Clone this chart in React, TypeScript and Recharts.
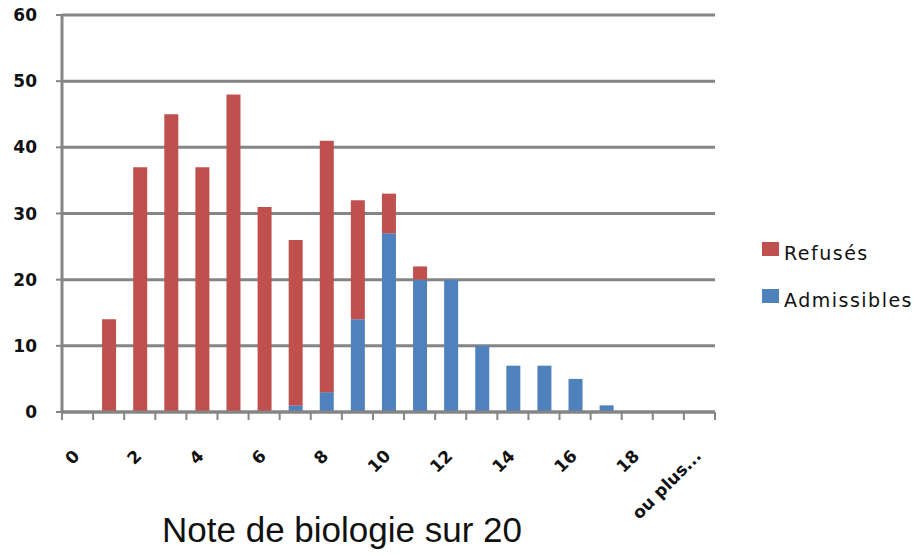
import { Bar, BarChart, CartesianGrid, XAxis, YAxis } from 'recharts'

const GRADES = ['0', '1', '2', '3', '4', '5', '6', '7', '8', '9', '10', '11', '12', '13', '14', '15', '16', '17', '18', '19', 'ou plus...']
const ADMISSIBLES = [0, 0, 0, 0, 0, 0, 0, 1, 3, 14, 27, 20, 20, 10, 7, 7, 5, 1, 0, 0, 0]
const REFUSES = [0, 14, 37, 45, 37, 48, 31, 25, 38, 18, 6, 2, 0, 0, 0, 0, 0, 0, 0, 0, 0]
const Y_TICKS = [0, 10, 20, 30, 40, 50, 60]

const RED = '#C0504D'
const BLUE = '#4F81BD'
const GRID = '#858585'

const W = 916
const H = 556
const X_HEIGHT = 144
const MARGIN = { top: 15, right: 201, bottom: 0, left: 0 }
const Y_WIDTH = 62
const SLOT = (W - MARGIN.right - MARGIN.left - Y_WIDTH) / GRADES.length

const data = GRADES.map((g, i) => ({ grade: g, admissibles: ADMISSIBLES[i], refuses: REFUSES[i] }))

function XTick(props: any) {
  const { x, y, index, payload } = props
  const half = SLOT / 2
  const last = index === GRADES.length - 1
  const lx = x + 3
  const ly = y + 45
  return (
    <g>
      <line x1={x - half} x2={x - half} y1={y} y2={y + 8} stroke={GRID} strokeWidth={2} />
      {last && <line x1={x + half} x2={x + half} y1={y} y2={y + 8} stroke={GRID} strokeWidth={2} />}
      {index % 2 === 0 && (
        <text
          x={lx}
          y={ly}
          textAnchor="end"
          transform={`rotate(-45 ${lx} ${ly})`}
          fontFamily="DejaVu Sans"
          fontWeight="bold"
          fontSize={17}
          fill="#111"
        >
          {payload.value}
        </text>
      )}
    </g>
  )
}

function LegendBox() {
  const items = [
    { label: 'Refusés', color: RED, top: 242 },
    { label: 'Admissibles', color: BLUE, top: 289 },
  ]
  return (
    <>
      {items.map((it) => (
        <div key={it.label}>
          <div
            style={{ position: 'absolute', left: 762, top: it.top, width: 17, height: 14, background: it.color }}
          />
          <div
            style={{
              position: 'absolute',
              left: 784,
              top: it.top + 2,
              fontFamily: 'DejaVu Sans',
              fontSize: 19,
              lineHeight: '19px',
              letterSpacing: 1.5,
              color: '#111',
              whiteSpace: 'nowrap',
            }}
          >
            {it.label}
          </div>
        </div>
      ))}
    </>
  )
}

export default function App() {
  return (
    <div style={{ position: 'absolute', left: 0, top: 0, width: W, height: H, background: '#fff' }}>
      <BarChart width={W} height={H} data={data} margin={MARGIN} barSize={14}>
        <CartesianGrid horizontal vertical={false} stroke={GRID} strokeWidth={3} />
        <XAxis
          dataKey="grade"
          interval={0}
          axisLine={{ stroke: GRID, strokeWidth: 3 }}
          tickLine={false}
          tickSize={0}
          tickMargin={0}
          tick={<XTick />}
          height={X_HEIGHT}
        />
        <YAxis
          domain={[0, 60]}
          ticks={Y_TICKS}
          width={Y_WIDTH}
          axisLine={{ stroke: GRID, strokeWidth: 3 }}
          tickLine={{ stroke: GRID, strokeWidth: 2 }}
          tickSize={6}
          tickMargin={19}
          tick={{ fontFamily: 'DejaVu Sans', fontWeight: 'bold', fontSize: 17, fill: '#111' }}
        />
        <Bar dataKey="admissibles" stackId="a" fill={BLUE} isAnimationActive={false} />
        <Bar dataKey="refuses" stackId="a" fill={RED} isAnimationActive={false} />
      </BarChart>
      <LegendBox />
      <div
        style={{
          position: 'absolute',
          left: 0,
          width: 684,
          top: 512,
          textAlign: 'center',
          fontFamily: 'Liberation Sans',
          fontSize: 35,
          lineHeight: '35px',
          color: '#111',
        }}
      >
        Note de biologie sur 20
      </div>
    </div>
  )
}
